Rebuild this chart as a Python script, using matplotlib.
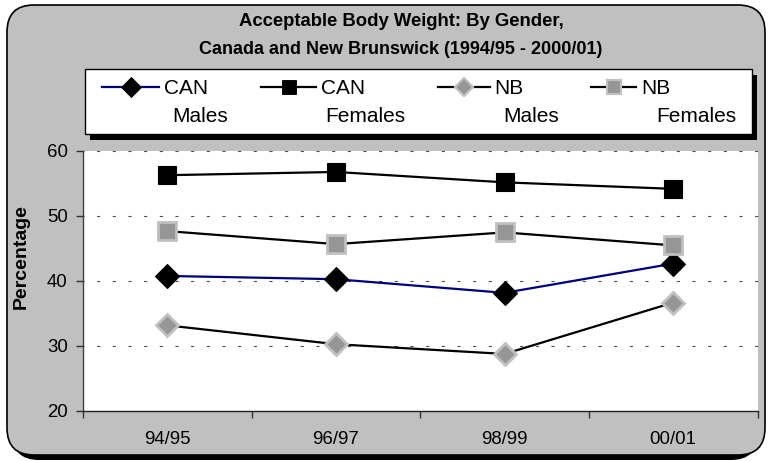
import matplotlib
matplotlib.use("Agg")
import matplotlib.pyplot as plt
from matplotlib.patches import FancyBboxPatch, Rectangle
from matplotlib.lines import Line2D

plt.rcParams['font.family'] = ['Liberation Sans', 'DejaVu Sans']

# ---- data ----
periods = ["94/95", "96/97", "98/99", "00/01"]
can_males = [40.7, 40.2, 38.1, 42.6]
can_females = [56.2, 56.7, 55.1, 54.1]
nb_males = [33.1, 30.2, 28.7, 36.6]
nb_females = [47.6, 45.6, 47.4, 45.4]
y_ticks = [20, 30, 40, 50, 60]
series_names = [("CAN", "Males"), ("CAN", "Females"), ("NB", "Males"), ("NB", "Females")]
title_lines = ["Acceptable Body Weight: By Gender,",
               "Canada and New Brunswick (1994/95 - 2000/01)"]

W, H = 771, 461
fig = plt.figure(figsize=(W / 100, H / 100), dpi=100)
fig.patch.set_facecolor("white")


def fx(px):
    return px / W


def fy(py):
    return 1 - py / H


GRAY_BG = "#c0c0c0"

# rounded outer frame with drop shadow
shadow = FancyBboxPatch((fx(12), fy(460)), fx(758) - fx(12), fy(10) - fy(460),
                        boxstyle="round,pad=0,rounding_size=0.035",
                        transform=fig.transFigure, facecolor="black",
                        edgecolor="black", linewidth=0, zorder=0,
                        mutation_aspect=W / H)
fig.patches.append(shadow)
frame = FancyBboxPatch((fx(7), fy(455)), fx(765) - fx(7), fy(5) - fy(455),
                       boxstyle="round,pad=0,rounding_size=0.035",
                       transform=fig.transFigure, facecolor=GRAY_BG,
                       edgecolor="black", linewidth=1.2, zorder=1,
                       mutation_aspect=W / H)
fig.patches.append(frame)

# title
fig.text(fx(401), fy(21), title_lines[0], ha="center", va="center",
         fontsize=13.3, fontweight="bold", zorder=5)
fig.text(fx(401), fy(49), title_lines[1], ha="center", va="center",
         fontsize=13, fontweight="bold", zorder=5)

# plot area
left, right, top, bottom = 83, 757.5, 150.5, 410.5
ax = fig.add_axes([fx(left), fy(bottom), fx(right) - fx(left), fy(top) - fy(bottom)])
ax.set_zorder(3)
ax.set_facecolor("white")

x = [i + 0.5 for i in range(len(periods))]

style_can_m = dict(color="#000080", lw=1.6, marker="D", ms=12.5,
                   mfc="black", mec="black", mew=0.8)
style_can_f = dict(color="black", lw=1.6, marker="s", ms=13.5,
                   mfc="black", mec="black", mew=0.8)
style_nb_m = dict(color="black", lw=1.6, marker="D", ms=11.5,
                  mfc="#969696", mec="#c0c0c0", mew=2.0)
style_nb_f = dict(color="black", lw=1.6, marker="s", ms=12.5,
                  mfc="#969696", mec="#c0c0c0", mew=2.0)
styles = [style_can_m, style_can_f, style_nb_m, style_nb_f]

ax.plot(x, nb_males, zorder=4, **style_nb_m)
ax.plot(x, can_males, zorder=4, **style_can_m)
ax.plot(x, nb_females, zorder=4, **style_nb_f)
ax.plot(x, can_females, zorder=4, **style_can_f)

for yv in [30, 40, 50, 60]:
    ax.axhline(yv, color="#505050", lw=0.8,
               linestyle=(1.9, (2.9, 11.2)), zorder=1, clip_on=False)

ax.set_xlim(0, len(periods))
ax.set_ylim(20, 60)
ax.set_yticks(y_ticks)
ax.set_yticklabels([str(v) for v in y_ticks], fontsize=13.4)
ax.set_xticks(range(len(periods) + 1))
ax.set_xticklabels([])
ax.set_xticks(x, minor=True)
ax.set_xticklabels(periods, minor=True, fontsize=13.4)
ax.tick_params(axis="x", which="major", direction="out", length=5, width=1, color="#303030")
ax.tick_params(axis="x", which="minor", length=0, pad=15)
ax.tick_params(axis="y", direction="out", length=5, width=1, color="#303030", pad=6)

for s in ["top", "right"]:
    ax.spines[s].set_visible(False)
ax.spines["left"].set_color("#404040")
ax.spines["bottom"].set_color("#202020")
ax.spines["left"].set_linewidth(1)
ax.spines["bottom"].set_linewidth(1)

fig.text(fx(21), fy(257), "Percentage", rotation=90, ha="center", va="center",
         fontsize=14, fontweight="bold", zorder=5)

# legend box with drop shadow
lg_l, lg_r, lg_t, lg_b = 85, 752, 69, 134
fig.patches.append(Rectangle((fx(lg_l + 5), fy(lg_b + 6)), fx(lg_r) - fx(lg_l),
                             fy(lg_t) - fy(lg_b), transform=fig.transFigure,
                             facecolor="black", edgecolor="none", zorder=4))
fig.patches.append(Rectangle((fx(lg_l), fy(lg_b)), fx(lg_r) - fx(lg_l),
                             fy(lg_t) - fy(lg_b), transform=fig.transFigure,
                             facecolor="white", edgecolor="black", lw=1, zorder=5))

handle_spans = [(102, 159), (261, 316), (438, 490), (591, 636)]
first_text_x = [164, 321, 494, 641]
second_text_right = [228, 405, 559, 736]
row1_y, row2_y = 88, 116
for (name, sub), (h0, h1), tx, tr, st in zip(series_names, handle_spans,
                                                first_text_x, second_text_right, styles):
    hc = (h0 + h1) / 2
    fig.add_artist(Line2D([fx(h0), fx(h1)], [fy(row1_y - 1)] * 2,
                          transform=fig.transFigure, color=st["color"], lw=st["lw"],
                          zorder=6))
    fig.add_artist(Line2D([fx(hc)], [fy(row1_y - 1)], transform=fig.transFigure,
                          linestyle="none", marker=st["marker"], ms=st["ms"] * 0.78,
                          mfc=st["mfc"], mec=st["mec"], mew=st["mew"] * 0.8, zorder=7))
    fig.text(fx(tx), fy(row1_y), name, ha="left", va="center", fontsize=15, zorder=7)
    fig.text(fx(tr), fy(row2_y), sub, ha="right", va="center", fontsize=15, zorder=7)

fig.savefig("out.png", dpi=100)
